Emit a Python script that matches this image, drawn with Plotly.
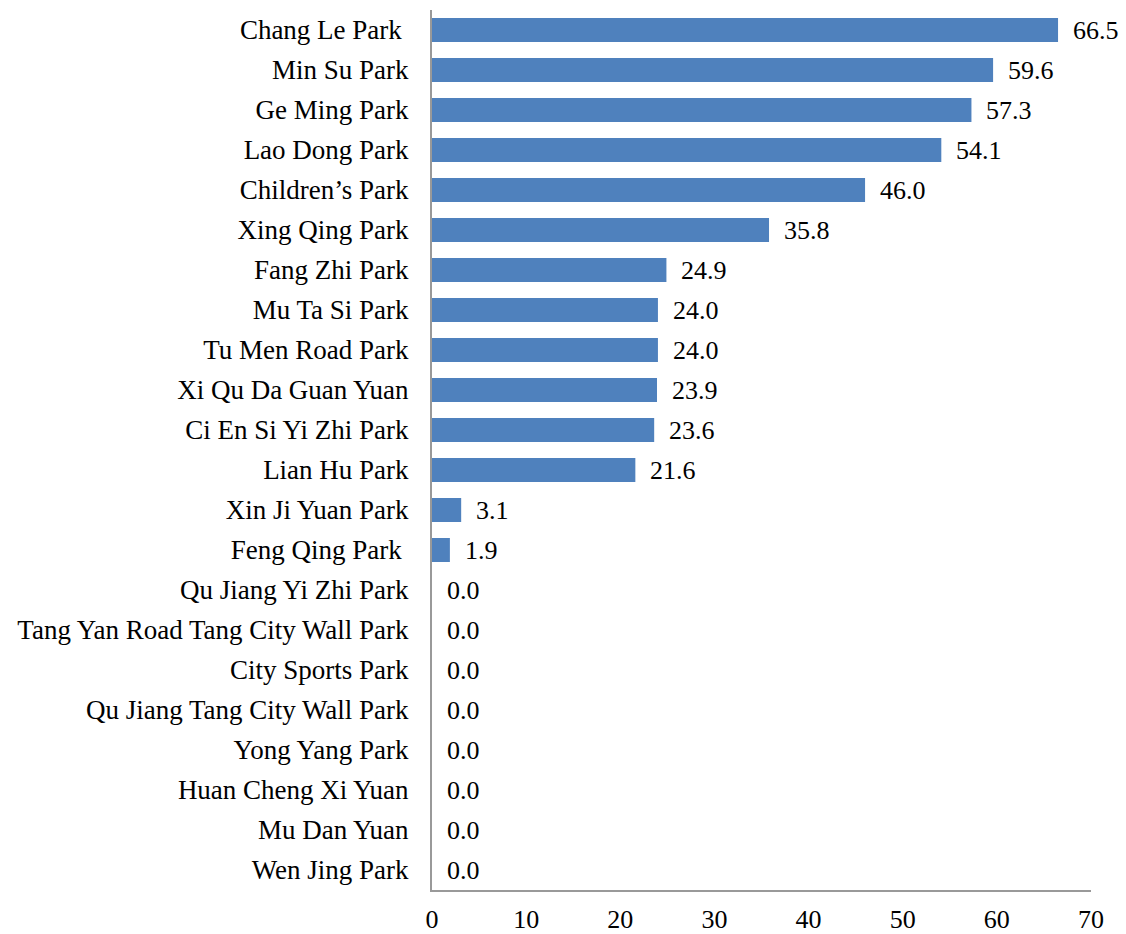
import plotly.graph_objects as go

parks = ["Chang Le Park ", "Min Su Park", "Ge Ming Park", "Lao Dong Park", "Children\u2019s Park",
         "Xing Qing Park", "Fang Zhi Park", "Mu Ta Si Park", "Tu Men Road Park", "Xi Qu Da Guan Yuan",
         "Ci En Si Yi Zhi Park", "Lian Hu Park", "Xin Ji Yuan Park", "Feng Qing Park ",
         "Qu Jiang Yi Zhi Park", "Tang Yan Road Tang City Wall Park", "City Sports Park",
         "Qu Jiang Tang City Wall Park", "Yong Yang Park", "Huan Cheng Xi Yuan", "Mu Dan Yuan",
         "Wen Jing Park"]
values = [66.5, 59.6, 57.3, 54.1, 46.0, 35.8, 24.9, 24.0, 24.0, 23.9, 23.6, 21.6, 3.1, 1.9,
          0.0, 0.0, 0.0, 0.0, 0.0, 0.0, 0.0, 0.0]
x_ticks = [0, 10, 20, 30, 40, 50, 60, 70]

FONT = "Liberation Serif, Times New Roman, serif"
FS = 26

fig = go.Figure()
fig.add_trace(go.Bar(
    y=parks, x=values, orientation="h",
    marker=dict(color="#4F81BD", line=dict(width=0)),
))
for p, v in zip(parks, values):
    fig.add_annotation(x=v, y=p, text=f"{v:.1f}", showarrow=False,
                       xanchor="left", yanchor="middle", xshift=13,
                       font=dict(family=FONT, size=FS, color="black"))

fig.update_layout(
    width=1126, height=934,
    margin=dict(l=432, r=35, t=10, b=44),
    plot_bgcolor="white", paper_bgcolor="white",
    bargap=0.4, showlegend=False,
    font=dict(family=FONT, size=FS, color="black"),
)
fig.update_yaxes(autorange="reversed", showline=True, linecolor="#999999", linewidth=2,
                 ticks="", ticklabelstandoff=16, showgrid=False, zeroline=False,
                 automargin=False, tickfont=dict(family=FONT, size=27))
fig.update_xaxes(range=[0, 70], tickvals=x_ticks, showline=True, linecolor="#999999",
                 linewidth=2, ticks="", ticklabelstandoff=5, showgrid=False, zeroline=False,
                 automargin=False, tickfont=dict(family=FONT, size=FS))

fig.write_html("out.html")
